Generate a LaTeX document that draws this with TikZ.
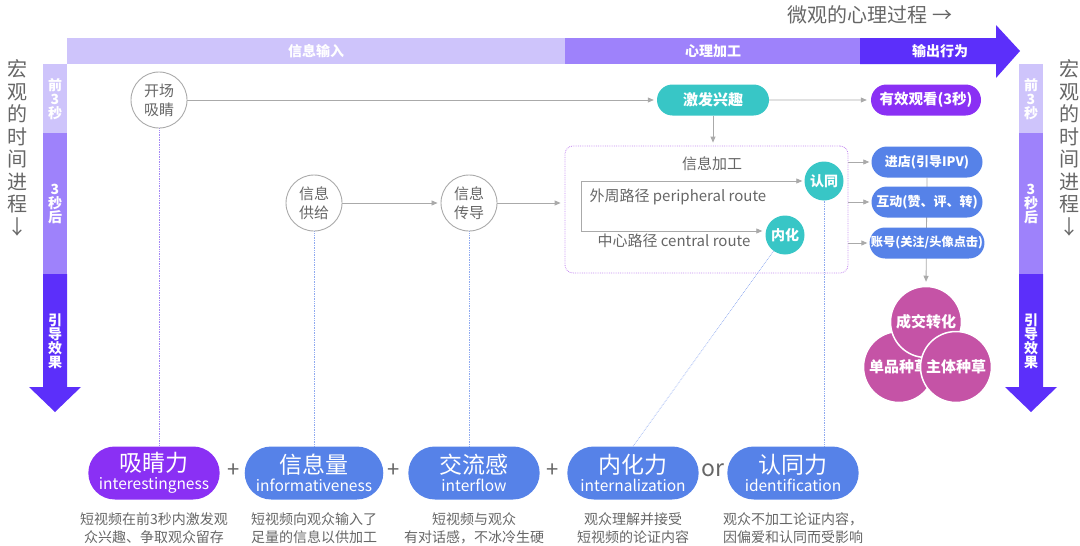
\documentclass[tikz,border=0pt]{standalone}
\usepackage{fontspec}
\setmainfont{Noto Sans CJK SC}
\usepackage{tikz}
\definecolor{vlilac}{HTML}{CEC4FB}
\definecolor{vpurple}{HTML}{9E82FB}
\definecolor{vindigo}{HTML}{5C2FFA}
\definecolor{vteal}{HTML}{38C6C6}
\definecolor{vviolet}{HTML}{8A30F4}
\definecolor{vblue}{HTML}{5682E8}
\definecolor{vmagenta}{HTML}{C553A6}
\definecolor{vgray}{HTML}{666666}
\definecolor{vline}{HTML}{AAAAAA}
\definecolor{vdotblue}{HTML}{8FAAF0}
\definecolor{vdotpurple}{HTML}{A488F5}
\definecolor{vframe}{HTML}{C48AF0}
\usetikzlibrary{arrows.meta,positioning,shapes.misc,backgrounds}

\begin{document}
\begin{tikzpicture}[x=1pt,y=-1pt,
  tiparr/.style={draw=vline, line width=0.8pt, -{Triangle[length=6pt,width=5pt]}},
  stage/.style={circle, draw=vline, line width=0.9pt, fill=white, minimum size=56pt, inner sep=0pt, align=center, text=vgray, font=\fontsize{15}{19}\selectfont},
  tagpill/.style={rounded rectangle, minimum width=113pt, minimum height=31pt, inner xsep=1pt, text=white, font=\fontsize{13}{13}\selectfont\bfseries},
  forcepill/.style={rounded rectangle, minimum width=138pt, minimum height=53pt, text=white, align=center, font=\fontsize{23}{18}\selectfont},
  route/.style={circle, fill=vteal, minimum size=39pt, inner sep=0pt, text=white, font=\fontsize{14}{14}\selectfont\bfseries},
  effect/.style={circle, fill=vmagenta, draw=white, line width=1.5pt, minimum size=71pt, inner sep=0pt, text=white, font=\fontsize{15}{15}\selectfont\bfseries},
  barlabel/.style={text=white, align=center, font=\fontsize{14}{14}\selectfont\bfseries},
  sidetext/.style={text=vgray, align=center, font=\fontsize{20}{22.5}\selectfont},
  note/.style={text=vgray, align=center, anchor=north, font=\fontsize{14}{18}\selectfont},
  link/.style={densely dotted, line width=0.7pt},
]
  \useasboundingbox (0,0) rectangle (1080,546);

  \fill[vlilac] (67,38) rectangle (565,64);
  \fill[vpurple] (565,38) rectangle (860,64);
  \fill[vindigo] (860,38) -- (996,38) -- (996,25) -- (1020,51) -- (996,78) -- (996,64) -- (860,64) -- cycle;
  \node[barlabel] (inlabel) at (316,51) {信息输入};
  \node[barlabel] (proclabel) at (713,51) {心理加工};
  \node[barlabel] (outlabel) at (940,51) {输出行为};
  \node[text=vgray, font=\fontsize{20}{20}\selectfont] (microtitle) at (870,15) {微观的心理过程 →};

  \fill[vlilac] (43,64) rectangle (67,133);
  \fill[vpurple] (43,133) rectangle (67,274);
  \fill[vindigo] (43,274) -- (67,274) -- (67,387) -- (81,387) -- (55,412) -- (29,387) -- (43,387) -- cycle;
  \node[barlabel] (lfirst) at (55,99) {前\\3\\秒};
  \node[barlabel] (lafter) at (55,204) {3\\秒\\后};
  \node[barlabel] (leffect) at (55,341) {引\\导\\效\\果};
  \node[sidetext] (lmacro) at (17,148) {宏\\观\\的\\时\\间\\进\\程\\↓};

  \fill[vlilac] (1019,64) rectangle (1043,133);
  \fill[vpurple] (1019,133) rectangle (1043,274);
  \fill[vindigo] (1019,274) -- (1043,274) -- (1043,387) -- (1057,387) -- (1031,412) -- (1005,387) -- (1019,387) -- cycle;
  \node[barlabel] (rfirst) at (1031,99) {前\\3\\秒};
  \node[barlabel] (rafter) at (1031,204) {3\\秒\\后};
  \node[barlabel] (reffect) at (1031,341) {引\\导\\效\\果};
  \node[sidetext] (rmacro) at (1069,148) {宏\\观\\的\\时\\间\\进\\程\\↓};

  \node[stage] (kaichang) at (159,100) {开场\\吸睛};
  \node[stage] (gongji) at (314,203) {信息\\供给};
  \node[stage] (chuandao) at (469,203) {信息\\传导};

  \node[tagpill, fill=vteal, minimum width=114pt, font=\fontsize{15}{15}\selectfont\bfseries] (jifa) at (713,100) {激发兴趣};
  \node[tagpill, fill=vviolet, minimum width=112pt, font=\fontsize{14.5}{15}\selectfont\bfseries] (youxiao) at (926,100) {有效观看(3秒)};

  \node[draw=vframe, densely dotted, line width=0.8pt, rounded corners=8pt, minimum width=283pt, minimum height=127pt] (proc) at (706.5,209.5) {};
  \node[text=vgray, font=\fontsize{15}{15}\selectfont] (proctitle) at (712,164) {信息加工};
  \node[route] (rentong) at (824,181) {认同};
  \node[route] (neihua) at (785,235) {内化};
  \coordinate (ptop) at (581,181);
  \coordinate (pbot) at (581,231);
  \node[anchor=west, text=vgray, font=\fontsize{15}{15}\selectfont] (peri) at (586,197) {外周路径 peripheral route};
  \node[anchor=west, text=vgray, font=\fontsize{15}{15}\selectfont] (cent) at (594,241) {中心路径 central route};

  \node[tagpill, fill=vblue] (jindian) at (927,162) {进店(引导IPV)};
  \node[tagpill, fill=vblue] (hudong) at (927,202) {互动(赞、评、转)};
  \node[tagpill, fill=vblue, inner xsep=0pt, font=\fontsize{12.2}{13}\selectfont\bfseries] (zhanghao) at (927,243) {账号(关注/头像点击)};

  \node[effect] (danpin) at (899,367) {单品种草};
  \node[effect] (chengjiao) at (926,322) {成交转化};
  \node[effect] (zhuti) at (956,367) {主体种草};

  \node[forcepill, fill=vviolet] (xijingli) at (154,473) {吸睛力\\{\fontsize{15.5}{15}\selectfont interestingness}};
  \node[forcepill, fill=vblue] (xinxili) at (314,473) {信息量\\{\fontsize{15.5}{15}\selectfont informativeness}};
  \node[forcepill, fill=vblue] (jiaoliuli) at (474,473) {交流感\\{\fontsize{15.5}{15}\selectfont interflow}};
  \node[forcepill, fill=vblue] (neihuali) at (633,473) {内化力\\{\fontsize{15.5}{15}\selectfont internalization}};
  \node[forcepill, fill=vblue] (rentongli) at (793,473) {认同力\\{\fontsize{15.5}{15}\selectfont identification}};
  \node[text=vgray, font=\fontsize{22}{22}\selectfont] (plusa) at (234,471) {+};
  \node[text=vgray, font=\fontsize{22}{22}\selectfont] (plusb) at (394,471) {+};
  \node[text=vgray, font=\fontsize{22}{22}\selectfont] (plusc) at (553,471) {+};
  \node[text=vgray, font=\fontsize{23}{23}\selectfont] (orword) at (713,470) {or};

  \node[note] (notea) at (154,509) {短视频在前3秒内激发观\\众兴趣、争取观众留存};
  \node[note] (noteb) at (314,509) {短视频向观众输入了\\足量的信息以供加工};
  \node[note] (notec) at (474,509) {短视频与观众\\有对话感，不冰冷生硬};
  \node[note] (noted) at (633,509) {观众理解并接受\\短视频的论证内容};
  \node[note] (notee) at (793,509) {观众不加工论证内容，\\因偏爱和认同而受影响};

  \begin{pgfonlayer}{background}
    \draw[tiparr, shorten >=3pt] (kaichang) -- (jifa);
    \draw[tiparr, shorten >=4pt] (jifa) -- (youxiao);
    \draw[tiparr, shorten >=3pt] (jifa.south) -- (jifa.south |- proc.north);
    \draw[tiparr, shorten >=3pt] (gongji) -- (chuandao);
    \draw[tiparr, shorten >=4pt] (chuandao) -- (chuandao -| proc.west);
    \draw[tiparr, shorten >=2pt] (pbot) -- (ptop) -- (rentong);
    \draw[tiparr, shorten >=3pt] (pbot) -- (pbot -| neihua.west);
    \draw[tiparr, shorten >=2pt] (proc.east |- jindian) -- (jindian.west);
    \draw[tiparr, shorten >=2pt] (proc.east |- hudong) -- (hudong.west);
    \draw[tiparr, shorten >=2pt] (proc.east |- zhanghao) -- (zhanghao.west);
    \draw[tiparr, shorten >=4pt] (jindian.south) -- (chengjiao.north);
    \draw[link, vdotpurple] (kaichang.south) -- (kaichang.south |- xijingli.north);
    \draw[link, vdotblue] (gongji.south) -- (gongji.south |- xinxili.north);
    \draw[link, vdotblue] (chuandao.south) -- (chuandao.south |- jiaoliuli.north);
    \draw[link, vdotblue] (neihua) -- (neihuali.north);
    \draw[link, vdotblue] (rentong.south) -- (rentong.south |- rentongli.north);
  \end{pgfonlayer}
\end{tikzpicture}
\end{document}
